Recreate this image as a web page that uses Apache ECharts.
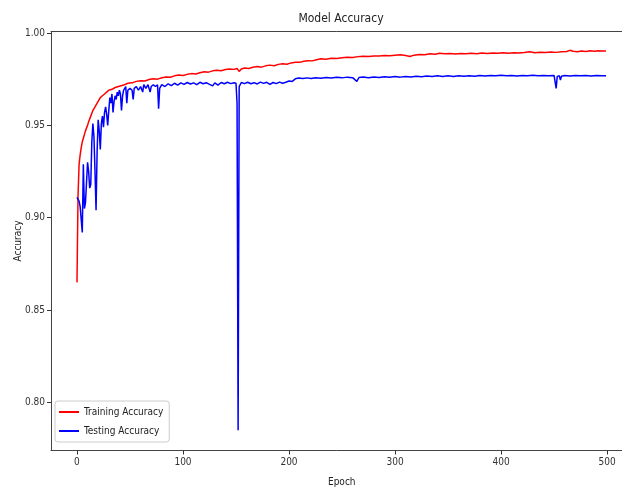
<!DOCTYPE html>
<html>
<head>
<meta charset="utf-8">
<script src="https://cdn.jsdelivr.net/npm/echarts@6/dist/echarts.min.js"></script>
<style>
html,body{margin:0;padding:0;background:#fff;}
#chart{width:622px;height:494px;}
</style>
</head>
<body>
<div id="chart"></div>
<script>
const xTicks = [0, 100, 200, 300, 400, 500];
const yTicks = [0.80, 0.85, 0.90, 0.95, 1.00];

const trainEpochs = [0,1,2,3,4,5,6,7,8,9,10,11,12,13,14,15,16,17,18,19,20,22,24,26,28,30,33,36,40,44,48,52,56,60,64,68,72,76,80,84,88,92,96,100,104,108,112,116,120,124,128,132,136,140,144,148,151,153,155,158,162,166,170,174,178,182,186,190,194,198,202,206,210,214,218,222,226,230,235,240,245,250,255,260,265,270,275,280,285,290,295,300,305,310,314,318,323,328,333,338,342,347,352,357,362,367,372,377,382,387,392,397,402,407,412,417,422,427,432,437,442,447,452,457,462,465,468,472,476,480,484,488,492,496,499];
const trainAcc = [0.865,0.912,0.929,0.934,0.938,0.941,0.943,0.945,0.947,0.948,0.950,0.952,0.953,0.955,0.956,0.958,0.959,0.960,0.961,0.962,0.963,0.965,0.966,0.967,0.968,0.969,0.9695,0.9705,0.9712,0.9718,0.9728,0.9730,0.9738,0.9742,0.9740,0.9748,0.9752,0.9750,0.9758,0.9762,0.9760,0.9768,0.9772,0.9770,0.9776,0.9780,0.9778,0.9785,0.9790,0.9788,0.9795,0.9798,0.9796,0.9802,0.9805,0.9803,0.9808,0.9792,0.9805,0.9810,0.9808,0.9814,0.9818,0.9815,0.9822,0.9826,0.9823,0.9830,0.9834,0.9831,0.9838,0.9842,0.9841,0.9847,0.9850,0.9849,0.9855,0.9860,0.9858,0.9863,0.9862,0.9866,0.9868,0.9867,0.9872,0.9874,0.9873,0.9876,0.9875,0.9878,0.9877,0.9880,0.9882,0.9878,0.9873,0.9880,0.9884,0.9882,0.9887,0.9885,0.9890,0.9887,0.9889,0.9886,0.9889,0.9887,0.9890,0.9888,0.9891,0.9889,0.9892,0.9890,0.9893,0.9890,0.9893,0.9891,0.9894,0.9898,0.9893,0.9896,0.9894,0.9897,0.9895,0.9898,0.9900,0.9906,0.9901,0.9899,0.9903,0.9900,0.9904,0.9901,0.9904,0.9902,0.9903];

const testEpochs = [0,1,2,3,4,5,6,7,8,9,10,11,12,13,14,15,16,17,18,19,20,21,22,23,24,25,26,27,28,29,30,31,32,33,34,35,36,37,38,39,40,41,42,43,44,45,46,47,48,50,52,53,54,56,58,60,62,63,65,67,69,70,72,74,76,77,78,80,83,86,89,92,95,98,101,104,107,110,113,116,119,122,125,128,130,133,136,139,142,145,148,150,151,152,153,155,158,161,164,167,170,173,176,179,182,185,188,191,194,197,200,203,206,209,213,217,221,225,230,235,240,245,250,255,260,264,266,270,275,280,285,290,295,300,305,310,315,320,325,330,335,340,345,350,355,360,365,370,375,380,385,390,395,400,405,410,415,420,425,430,435,440,445,450,452,453,455,456,457,460,465,470,475,480,485,490,495,499];
const testAcc = [0.911,0.910,0.909,0.906,0.907,0.892,0.929,0.905,0.908,0.919,0.930,0.925,0.916,0.918,0.941,0.951,0.944,0.925,0.904,0.936,0.953,0.947,0.937,0.951,0.955,0.949,0.957,0.960,0.956,0.950,0.958,0.965,0.962,0.967,0.957,0.963,0.966,0.964,0.968,0.966,0.969,0.967,0.958,0.966,0.969,0.968,0.971,0.962,0.969,0.970,0.969,0.964,0.970,0.971,0.969,0.971,0.968,0.972,0.970,0.972,0.968,0.971,0.972,0.971,0.972,0.959,0.970,0.972,0.971,0.9725,0.9715,0.9728,0.9718,0.9730,0.9722,0.9732,0.9724,0.9730,0.9720,0.9733,0.9725,0.9731,0.9722,0.9714,0.9730,0.9718,0.9732,0.9725,0.9733,0.9726,0.9731,0.9728,0.962,0.785,0.971,0.9732,0.9726,0.9733,0.9725,0.9731,0.9724,0.9734,0.9727,0.9733,0.9722,0.9732,0.9726,0.9734,0.9728,0.9733,0.9740,0.9738,0.9752,0.9756,0.9753,0.9757,0.9754,0.9758,0.9755,0.9759,0.9756,0.9760,0.9757,0.9761,0.9758,0.9738,0.9759,0.9762,0.9758,0.9762,0.9759,0.9763,0.9760,0.9764,0.9761,0.9765,0.9762,0.9766,0.9763,0.9767,0.9764,0.9768,0.9765,0.9768,0.9765,0.9769,0.9766,0.9769,0.9766,0.9770,0.9767,0.9770,0.9768,0.9771,0.9768,0.9770,0.9767,0.9770,0.9768,0.9771,0.9768,0.9770,0.9768,0.9770,0.9700,0.9765,0.9768,0.9745,0.9766,0.9770,0.9767,0.9770,0.9768,0.9770,0.9767,0.9770,0.9768,0.9769];

const FONT = "'Liberation Sans Narrow', 'DejaVu Sans Condensed', 'DejaVu Sans', sans-serif";
const X_MIN = -24.5, X_MAX = 524, Y_MIN = 0.774, Y_MAX = 1.0008;
const spine = {show: true, onZero: false, lineStyle: {color: '#444', width: 1}};
const chart = echarts.init(document.getElementById('chart'), null, {renderer: 'canvas'});
chart.setOption({
  animation: false,
  backgroundColor: '#fff',
  textStyle: {fontFamily: FONT},
  title: {
    text: 'Model Accuracy', left: 336, top: 8, textAlign: 'center',
    textStyle: {fontSize: 12, fontWeight: 'normal', color: '#222', fontFamily: FONT}
  },
  grid: {left: 51, top: 31.5, width: 581.5, height: 419, show: false, outerBoundsMode: 'none', containLabel: false},
  legend: {
    orient: 'vertical', left: 55, top: 401,
    icon: 'rect', itemWidth: 20, itemHeight: 2, itemGap: 9,
    backgroundColor: '#fff', borderColor: '#ccc', borderWidth: 1, borderRadius: 3,
    padding: [6, 6, 6, 4],
    textStyle: {fontSize: 10, color: '#222', fontFamily: FONT},
    data: ['Training Accuracy', 'Testing Accuracy']
  },
  xAxis: [{
    type: 'value', min: X_MIN, max: X_MAX, position: 'bottom',
    axisLine: spine,
    splitLine: {show: false},
    axisTick: {show: true, length: 4, customValues: xTicks, lineStyle: {color: '#333'}},
    axisLabel: {customValues: xTicks, fontSize: 10, color: '#333', margin: 7, fontFamily: FONT},
    name: 'Epoch', nameLocation: 'middle', nameGap: 27,
    nameTextStyle: {fontSize: 10, color: '#222', fontFamily: FONT}
  }, {
    type: 'value', min: X_MIN, max: X_MAX, position: 'top',
    axisLine: spine, axisTick: {show: false}, axisLabel: {show: false}, splitLine: {show: false}
  }],
  yAxis: {
    type: 'value', min: Y_MIN, max: Y_MAX, position: 'left',
    axisLine: spine,
    splitLine: {show: false},
    axisTick: {show: true, length: 4, customValues: yTicks, lineStyle: {color: '#333'}},
    axisLabel: {customValues: yTicks, fontSize: 10, color: '#333', margin: 6, fontFamily: FONT,
      formatter: v => v.toFixed(2)},
    name: 'Accuracy', nameLocation: 'middle', nameGap: 28, nameRotate: 90, nameMoveOverlap: false,
    nameTextStyle: {fontSize: 10, color: '#222', fontFamily: FONT}
  },
  series: [
    {
      name: 'Training Accuracy', type: 'line', symbol: 'none', showSymbol: false,
      xAxisIndex: 0, yAxisIndex: 0,
      color: '#ff0000', lineStyle: {width: 1.5, color: '#ff0000'},
      data: trainEpochs.map((e, i) => [e, trainAcc[i]])
    },
    {
      name: 'Testing Accuracy', type: 'line', symbol: 'none', showSymbol: false,
      xAxisIndex: 0, yAxisIndex: 0,
      color: '#0000ff', lineStyle: {width: 1.5, color: '#0000ff'},
      data: testEpochs.map((e, i) => [e, testAcc[i]])
    }
  ]
});
</script>
</body>
</html>
